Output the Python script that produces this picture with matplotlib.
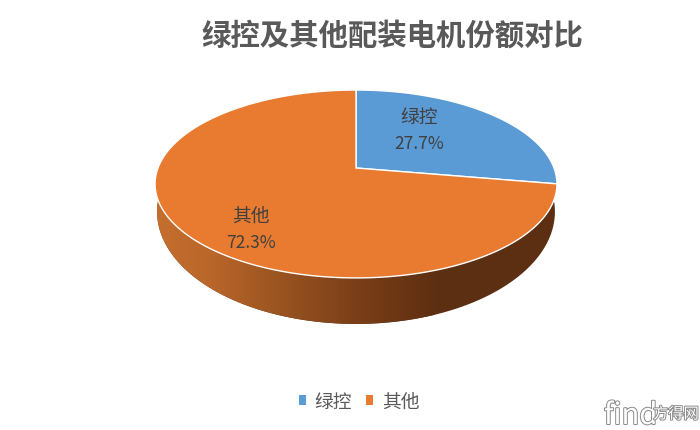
#!/bin/env python3

import numpy as np
import matplotlib.pyplot as plt
from matplotlib.colors import LinearSegmentedColormap
from matplotlib.patches import Patch, Polygon
import matplotlib.patheffects as pe

plt.rcParams['font.family'] = ['Noto Sans CJK SC', 'DejaVu Sans']

title = "绿控及其他配装电机份额对比"
labels = ["绿控", "其他"]
shares = [27.7, 72.3]
colors = ["#5B9BD5", "#E97B30"]
text_color = "#404040"
wall_stops = [(0.0, "#C56F2E"), (0.2, "#B9662A"), (0.5, "#93501F"), (0.72, "#7A3F18"), (1.0, "#5E2F12")]


def project(angle):
    """ Perspective view of a point on the pie rim, angle in degrees, returned in pixels. """
    t = np.radians(angle)
    w = 1 + 0.170 * np.sin(t)
    x = 356 + 198 * np.cos(t) / w
    y = (169 - 62.5 * np.sin(t)) / w
    return np.column_stack([x, y])


def project_lower(angle):
    """ Same rim on the underside of the pie: a little narrower, wall deepest at the front. """
    rim = project(angle)
    x = 356 + 0.99 * (rim[:, 0] - 356)
    y = rim[:, 1] + 31 + 0.195 * (rim[:, 1] - 202)
    return np.column_stack([x, y])


def slice_points(start, end):
    """ Outline of one slice: centre of the pie, then its rim. """
    rim = project(np.linspace(start, end, 200))
    return np.vstack([[356, 169], rim])


fig = plt.figure(figsize=(7, 4.31), dpi=100)
ax = fig.add_axes([0, 0, 1, 1])
ax.set_xlim(0, 700)
ax.set_ylim(431, 0)
ax.axis("off")

# side wall of the pie, gradient clipped to the band under the front rim
top_rim = project(np.linspace(170, 370, 300))
bottom_rim = project_lower(np.linspace(370, 170, 300))
wall_cmap = LinearSegmentedColormap.from_list("wall", wall_stops)
gradient = np.linspace(0, 1, 256).reshape(1, -1)
wall = Polygon(np.vstack([top_rim, bottom_rim]), closed=True, facecolor="#5C2E12", edgecolor="none", zorder=1)
ax.add_patch(wall)
image = ax.imshow(gradient, cmap=wall_cmap, extent=[155, 435, 431, 0], aspect="auto", zorder=1.5)
image.set_clip_path(wall)
ax.set_xlim(0, 700)
ax.set_ylim(431, 0)

# top face, clockwise from twelve o'clock
angle = 90.0
label_spots = [(419, 130), (251, 229)]
for share, color, name, spot in zip(shares, colors, labels, label_spots):
    end = angle - share * 3.6
    ax.add_patch(Polygon(slice_points(angle, end), closed=True, facecolor=color,
                         edgecolor="white", linewidth=1.0, zorder=2))
    ax.text(spot[0], spot[1] - 13, name, fontsize=13.5, color=text_color, ha="center", va="center", zorder=3)
    ax.text(spot[0], spot[1] + 14, f"{share:.1f}%", fontsize=12.5, color=text_color, ha="center", va="center", zorder=3)
    angle = end

ax.text(392, 36, title, fontsize=21.2, fontweight="bold", color="#595959", ha="center", va="center")

handles = [Patch(facecolor=c, edgecolor="none") for c in colors]
ax.legend(handles, labels, loc="center", bbox_to_anchor=(359 / 700, 1 - 402 / 431), ncol=2, frameon=False,
          fontsize=13.5, labelcolor="#595959", handlelength=0.4, handleheight=0.4, handletextpad=0.44,
          columnspacing=0.74, borderpad=0, borderaxespad=0)

# site watermark in the corner
outline = [pe.withStroke(linewidth=1.4, foreground="#8A8A8A")]
ax.text(604, 417, "find", fontsize=21, color="white", ha="left", va="center", path_effects=outline)
ax.text(653, 415, "方得网", fontsize=11, color="white", ha="left", va="center", path_effects=outline)

fig.savefig("out.png", dpi=100)
